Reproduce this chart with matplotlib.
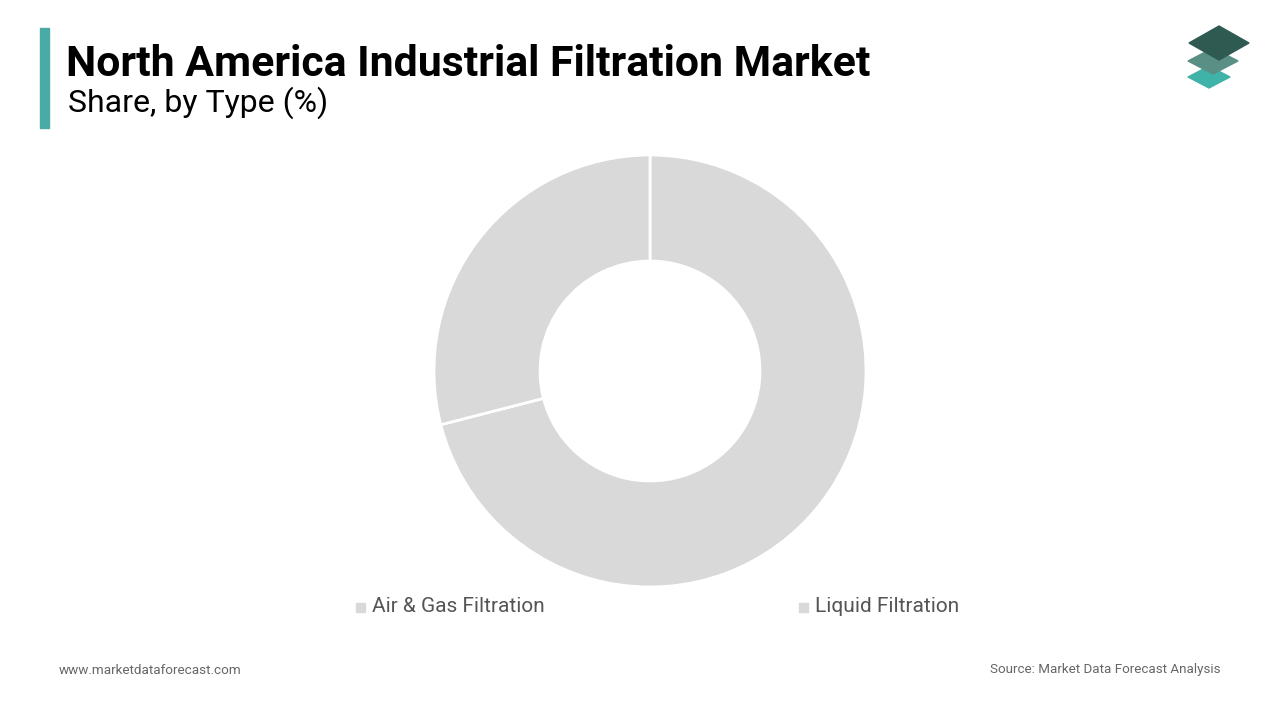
import matplotlib.pyplot as plt
from matplotlib.patches import Polygon, Rectangle

categories = ["Air & Gas Filtration", "Liquid Filtration"]
shares = [71, 29]
slice_color = "#d9d9d9"

fig = plt.figure(figsize=(12.8, 7.2), dpi=100)

# donut, centre (650,371), outer radius ~216 px
ax = fig.add_axes([(650 - 216) / 1280, 1 - (371 + 216) / 720, 432 / 1280, 432 / 720])
ax.pie(shares, startangle=90, counterclock=False, colors=[slice_color] * 2,
       wedgeprops=dict(width=106 / 216, edgecolor="white", linewidth=2))
ax.set_xlim(-1, 1)
ax.set_ylim(-1, 1)
ax.set_aspect("equal")
ax.axis("off")

# title block
fig.patches.append(Rectangle((40 / 1280, 1 - 128 / 720), 9 / 1280, 100 / 720,
                             transform=fig.transFigure, color="#4aaba6"))
fig.text(66 / 1280, 1 - 65 / 720, "North America Industrial Filtration Market",
         fontsize=30.8, fontweight="bold", family="Roboto", va="center")
fig.text(68 / 1280, 1 - 103 / 720, "Share, by Type (%)", fontsize=23,
         family="Roboto", va="center")

# legend
for x, lab in zip([356, 799], categories):
    fig.patches.append(Rectangle((x / 1280, 1 - 612 / 720), 9 / 1280, 9 / 720,
                                 transform=fig.transFigure, color=slice_color))
    fig.text((x + 16) / 1280, 1 - 607 / 720, lab, fontsize=15, color="#555555",
             family="Roboto", va="center")

# footer
fig.text(59 / 1280, 1 - 670 / 720, "www.marketdataforecast.com", fontsize=9.7,
         color="#666666", family="Roboto", va="center")
fig.text(1220 / 1280, 1 - 670 / 720, "Source: Market Data Forecast Analysis",
         fontsize=9.6, color="#666666", family="Roboto", va="center", ha="right")

# logo: stacked diamonds
def diamond(cx, cy, w, h, color):
    pts = [(cx - w / 2, cy), (cx, cy - h / 2), (cx + w / 2, cy), (cx, cy + h / 2)]
    pts = [(px / 1280, 1 - py / 720) for px, py in pts]
    fig.patches.append(Polygon(pts, closed=True, transform=fig.transFigure,
                               color=color))

diamond(1209, 77, 42, 22, "#3fb3a8")
diamond(1213, 61, 50, 26, "#5a8f86")
diamond(1219, 43, 60, 34, "#2f5a52")

fig.savefig("out.png", dpi=100, facecolor="white")
